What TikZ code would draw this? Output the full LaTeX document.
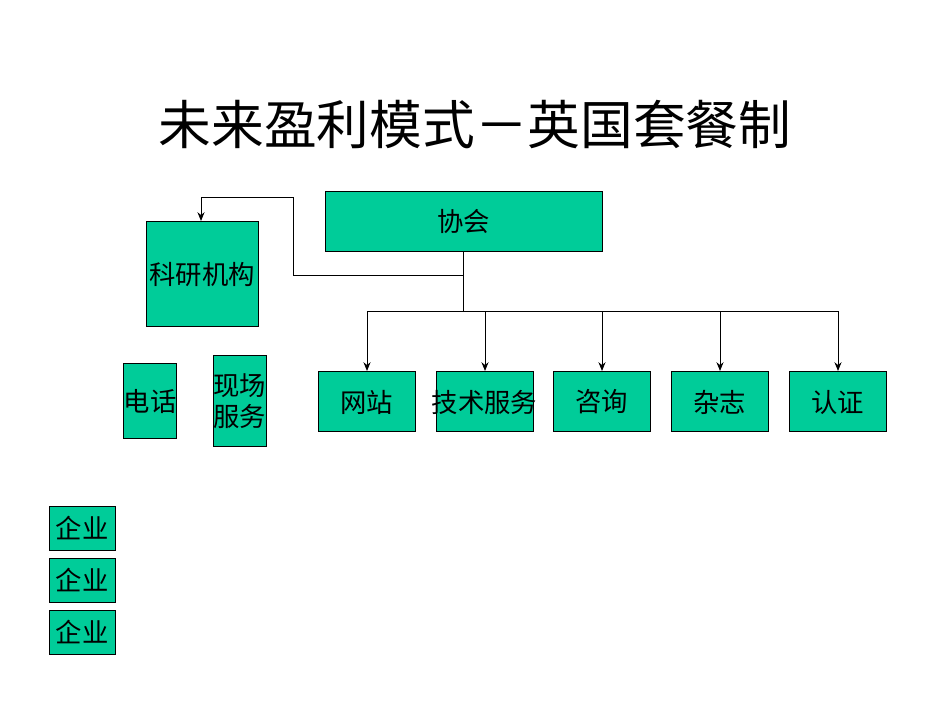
\documentclass[tikz,border=0pt]{standalone}
\usepackage{fontspec}
\setmainfont{Noto Sans CJK SC}
\usetikzlibrary{arrows.meta}
\definecolor{boxg}{HTML}{00CC99}
\begin{document}
\begin{tikzpicture}[x=0.02cm,y=-0.02cm,
  bx/.style={draw=black,fill=boxg,inner sep=0pt,font=\fontsize{15}{18}\selectfont},
  ln/.style={draw=black,line width=0.5pt},
  ar/.style={ln,-{Stealth[length=5pt,width=4pt]}}]
\useasboundingbox (0,0) rectangle (950,713);
\node (title) at (475,125) {\fontsize{30}{36}\selectfont 未来盈利模式－英国套餐制};
\path[bx] (325,191) rectangle (602,251);
\node[font=\fontsize{15}{18}\selectfont] (xh) at (463.5,221) {协会};
\path[bx] (146,221) rectangle (258,326);
\node[font=\fontsize{15}{18}\selectfont] (ky) at (202,275) {科研机构};
\path[bx] (123,363) rectangle (176,438);
\node[font=\fontsize{15}{18}\selectfont] (dh) at (150,402) {电话};
\path[bx] (213,355) rectangle (266,446);
\node[font=\fontsize{15}{18}\selectfont,align=center] (xc) at (239.5,401) {现场\\服务};
\foreach \n/\t/\x in {wz/网站/318,js/技术服务/436,zx/咨询/553,zz/杂志/671,rz/认证/789}{
  \path[bx] (\x,371) rectangle ++(97,60);
  \node[font=\fontsize{15}{18}\selectfont] (\n) at (\x+48.5,402) {\t};
}
\foreach \y in {506,558,610}{
  \path[bx] (49,\y) rectangle ++(66,44);
  \node[font=\fontsize{15}{18}\selectfont] at (82,\y+22) {企业};
}
\coordinate (top) at (463.5,251);
\coordinate (j) at (463.5,311);
\draw[ln] (top) -- (j);
\draw[ln] (367,311) -- (838,311);
\foreach \x in {367,485,602,720,838}{
  \draw[ar] (\x,311) -- (\x,371);
}
\draw[ar] (463.5,275) -- (293,275) -- (293,197) -- (201,197) -- (201,221);
\end{tikzpicture}
\end{document}
